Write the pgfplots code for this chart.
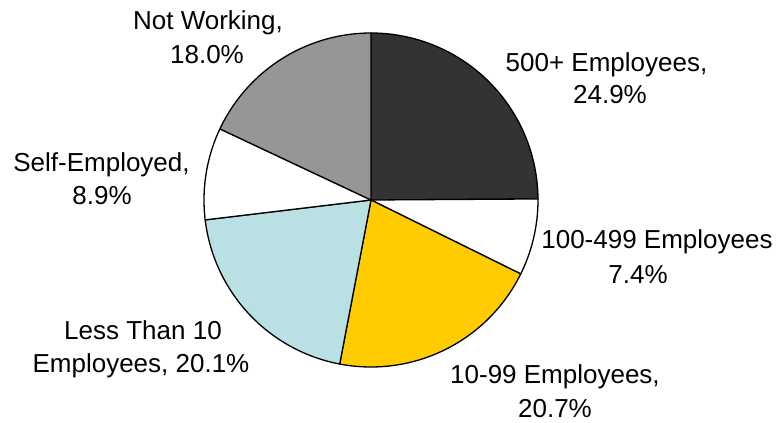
\documentclass[border=0pt]{standalone}
\usepackage{fontspec}
\setmainfont{Liberation Sans}
\usepackage{pgfplots}
\pgfplotsset{compat=1.18}
\definecolor{cA}{HTML}{333333}
\definecolor{cC}{HTML}{FFCC00}
\definecolor{cD}{HTML}{B9E0E3}
\definecolor{cF}{HTML}{969696}
% shares (percent), clockwise from 12 o'clock
\def\vA{24.9}% 500+ Employees
\def\vB{7.4}%  100-499 Employees
\def\vC{20.7}% 10-99 Employees
\def\vD{20.1}% Less Than 10 Employees
\def\vE{8.9}%  Self-Employed
\def\vF{18.0}% Not Working
\pgfmathsetmacro\aA{90}
\pgfmathsetmacro\aB{\aA-3.6*\vA}
\pgfmathsetmacro\aC{\aB-3.6*\vB}
\pgfmathsetmacro\aD{\aC-3.6*\vC}
\pgfmathsetmacro\aE{\aD-3.6*\vD}
\pgfmathsetmacro\aF{\aE-3.6*\vE}
\pgfmathsetmacro\aG{\aF-3.6*\vF}
\newcommand\slice[3]{%
  \addplot[draw=black, line width=1.3bp, line join=round, fill=#3, domain=#1:#2, samples=90, variable=\t]
    ({371+167*cos(\t)},{223+167*sin(\t)}) -- (axis cs:371,223) -- cycle;}
\newcommand\lbl{\fontsize{26bp}{32bp}\selectfont}
\tikzset{lb/.style={anchor=base, inner sep=0pt}}
\begin{document}
\begin{tikzpicture}
\path[use as bounding box] (0,0) rectangle (778bp,423bp);
\begin{axis}[hide axis, x=1bp, y=1bp, xmin=0, xmax=778, ymin=0, ymax=423,
  anchor=south west, at={(0,0)}, clip=false]
\slice{\aB}{\aA}{cA}
\slice{\aC}{\aB}{white}
\slice{\aD}{\aC}{cC}
\slice{\aE}{\aD}{cD}
\slice{\aF}{\aE}{white}
\slice{\aG}{\aF}{cF}
\node[lb] at (axis cs:208,393) {\lbl Not Working,};
\node[lb] at (axis cs:207,360) {\lbl 18.0\%};
\node[lb] at (axis cs:606.5,351.5) {\lbl 500+ Employees,};
\node[lb] at (axis cs:610,319.5) {\lbl 24.9\%};
\node[lb] at (axis cs:101.5,251.5) {\lbl Self-Employed,};
\node[lb] at (axis cs:102,218.5) {\lbl 8.9\%};
\node[lb] at (axis cs:657,174.5) {\lbl 100-499 Employees};
\node[lb] at (axis cs:638,139.5) {\lbl 7.4\%};
\node[lb] at (axis cs:143,84) {\lbl Less Than 10};
\node[lb] at (axis cs:141,50.5) {\lbl Employees, 20.1\%};
\node[lb] at (axis cs:555,40) {\lbl 10-99 Employees,};
\node[lb] at (axis cs:555,5.5) {\lbl 20.7\%};
\end{axis}
\end{tikzpicture}
\end{document}
